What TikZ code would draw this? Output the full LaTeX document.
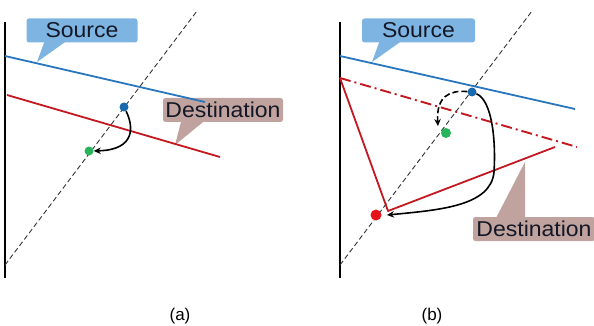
\documentclass[tikz,border=0pt]{standalone}
\usepackage{fontspec}
\setmainfont{Liberation Sans}
\newfontfamily\callfont[FakeStretch=1.07]{Liberation Sans}
\usetikzlibrary{arrows.meta}
\definecolor{srcfill}{RGB}{125,180,226}
\definecolor{dstfill}{RGB}{192,163,158}
\definecolor{lblue}{RGB}{40,118,190}
\definecolor{lred}{RGB}{196,24,32}
\definecolor{dgreen}{RGB}{40,180,90}
\definecolor{dblue}{RGB}{25,105,175}
\definecolor{dred}{RGB}{228,20,26}
\definecolor{txt}{RGB}{20,24,38}
\tikzset{
  callout/.style={rounded corners=2.5pt, inner sep=0pt, text=txt, font=\callfont\fontsize{21.5}{21.5}\selectfont},
  srcbox/.style={callout, fill=srcfill, minimum width=111pt, minimum height=24pt},
  dstbox/.style={callout, fill=dstfill, minimum height=24pt},
  axis/.style={line width=1.3pt, black},
  diag/.style={line width=0.9pt, black!80, dash pattern=on 5pt off 3pt},
  srcline/.style={line width=1.8pt, lblue},
  dstline/.style={line width=1.8pt, lred},
  dstdash/.style={line width=1.9pt, lred, dash pattern=on 11pt off 4pt on 2pt off 4pt},
  dot/.style={circle, inner sep=0pt, minimum size=9pt},
  move/.style={line width=1.6pt, black, -{Stealth[length=7pt,width=6.5pt]}},
  captext/.style={font=\fontsize{17}{17}\selectfont}
}
\begin{document}
\begin{tikzpicture}[x=1pt,y=-1pt]
\useasboundingbox (0,0) rectangle (594,326);
% ---------- (a) ----------
\coordinate (aSrcTip) at (37,62);
\coordinate (aDstTip) at (175,145);
\fill[srcfill] (45,40) -- (aSrcTip) -- (68,40) -- cycle;
\node[srcbox] (aSrc) at (82,30.5) {Source};
\fill[dstfill] (182,118) -- (aDstTip) -- (208,118) -- cycle;
\node[dstbox, minimum width=120pt] (aDst) at (223,110) {Destination};
\coordinate (aAxT) at (5,22);
\coordinate (aAxB) at (5,278);
\draw[axis] (aAxT) -- (aAxB);
\coordinate (aDgB) at (5,265);
\coordinate (aDgT) at (197,11);
\draw[diag] (aDgB) -- (aDgT);
\coordinate (aS1) at (5,56);
\coordinate (aS2) at (205,102);
\draw[srcline] (aS1) -- (aS2);
\coordinate (aD1) at (7,95);
\coordinate (aD2) at (220,157);
\draw[dstline] (aD1) -- (aD2);
\node[dot, fill=dblue] (aB) at (124,107) {};
\node[dot, fill=dgreen] (aG) at (89,151) {};
\draw[move] (aB) .. controls (133,125) and (137,150) .. (aG);
\node[captext] (capa) at (180,316) {(a)};
% ---------- (b) ----------
\coordinate (bSrcTip) at (372,62);
\coordinate (bDstTip) at (525,162);
\fill[srcfill] (380,40) -- (bSrcTip) -- (403,40) -- cycle;
\node[srcbox, minimum width=113pt] (bSrc) at (418.5,30.5) {Source};
\fill[dstfill] (495,220) -- (bDstTip) -- (525,220) -- cycle;
\node[dstbox, minimum width=122pt] (bDst) at (534,229) {Destination};
\coordinate (bAxT) at (340,22);
\coordinate (bAxB) at (340,278);
\draw[axis] (bAxT) -- (bAxB);
\coordinate (bDgB) at (340,265);
\coordinate (bDgT) at (532,11);
\draw[diag] (bDgB) -- (bDgT);
\coordinate (bS1) at (340,56);
\coordinate (bS2) at (575,109);
\draw[srcline] (bS1) -- (bS2);
\coordinate (bT1) at (340,78);
\coordinate (bT2) at (388,211);
\coordinate (bT3) at (555,147);
\coordinate (bDE) at (577,147);
\draw[dstdash] (bT1) -- (bDE);
\draw[dstline, line join=round] (bT1) -- (bT2) -- (bT3);
\node[dot, fill=dred, minimum size=11pt] (bR) at (376,215) {};
\node[dot, fill=dblue] (bB) at (472,92) {};
\node[dot, fill=dgreen, minimum size=10pt] (bG) at (446,133) {};
\coordinate (bDashEnd) at (438,126);
\coordinate (bSolidEnd) at (387,215);
\draw[move, dash pattern=on 6pt off 3pt] (bB) .. controls (450,90) and (436,96) .. (bDashEnd);
\draw[move] (bB) .. controls (492,100) and (496,140) .. (494,172)
                .. controls (491,206) and (440,210) .. (bSolidEnd);
\node[captext] (capb) at (432,316) {(b)};
\end{tikzpicture}
\end{document}
